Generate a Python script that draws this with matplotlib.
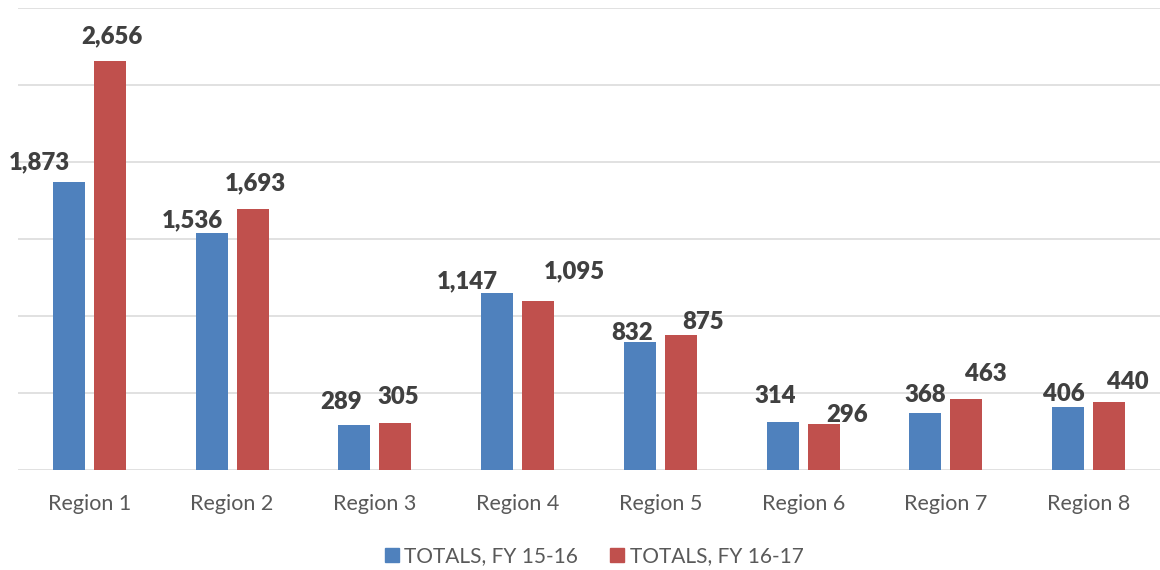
import matplotlib
matplotlib.use("Agg")
import matplotlib.pyplot as plt
from matplotlib.lines import Line2D
import numpy as np

categories = ["Region 1", "Region 2", "Region 3", "Region 4",
              "Region 5", "Region 6", "Region 7", "Region 8"]
fy1516 = [1873, 1536, 289, 1147, 832, 314, 368, 406]
fy1617 = [2656, 1693, 305, 1095, 875, 296, 463, 440]
series_names = ["TOTALS, FY 15-16", "TOTALS, FY 16-17"]

# label offsets (pixels) as in the reference
blue_dx = [-30, -19, -13, -30, -8, -7, 0, -4]
blue_gap = [12, 6, 16, 5, 2, 19, 11, 6]
red_dx = [2, 3, 3, 36, 22, 23, 19, 19]
red_gap = [18, 19, 19, 23, 6, 2, 18, 13]

BLUE = "#4F81BD"
RED = "#C0504D"
TXT = "#404040"
CAT = "#595959"

W, H = 1160, 570
fig = plt.figure(figsize=(W / 100, H / 100), dpi=100)
ax = fig.add_axes([18 / W, (H - 470) / H, (W - 18) / W, (470 - 8) / H])

x = np.arange(len(categories))
bw = 0.224
off = 0.1435
ax.bar(x - off, fy1516, width=bw, color=BLUE, zorder=3)
ax.bar(x + off, fy1617, width=bw, color=RED, zorder=3)

for i in range(len(categories)):
    ax.annotate(f"{fy1516[i]:,}", xy=(x[i] - off, fy1516[i]),
                xytext=(blue_dx[i], blue_gap[i]), textcoords="offset pixels",
                ha="center", va="baseline", fontsize=17.2, fontweight="heavy",
                color=TXT, family="Lato", zorder=4)
    ax.annotate(f"{fy1617[i]:,}", xy=(x[i] + off, fy1617[i]),
                xytext=(red_dx[i], red_gap[i]), textcoords="offset pixels",
                ha="center", va="baseline", fontsize=17.2, fontweight="heavy",
                color=TXT, family="Lato", zorder=4)

ax.set_xlim(-0.5, len(categories) - 0.5)
ax.set_ylim(0, 3000)
ax.set_yticks(np.arange(0, 3001, 500))
ax.yaxis.grid(True, color="#D9D9D9", linewidth=1.1, zorder=0)
ax.set_axisbelow(True)
ax.tick_params(axis="y", left=False, labelleft=False)
ax.tick_params(axis="x", bottom=False, pad=14)
ax.set_xticks(x)
ax.set_xticklabels(categories, fontsize=15.5, color=CAT, family="Lato")
for s in ax.spines.values():
    s.set_visible(False)

handles = [Line2D([], [], marker="s", ls="", markersize=9.5, color=BLUE),
           Line2D([], [], marker="s", ls="", markersize=9.5, color=RED)]
leg = fig.legend(handles, series_names, loc="center",
                 bbox_to_anchor=(593.5 / W, (H - 556) / H), ncol=2,
                 frameon=False, handletextpad=0.2, columnspacing=1.5,
                 handlelength=0.8, prop={"family": "Lato", "size": 15})
for t in leg.get_texts():
    t.set_color(CAT)

fig.savefig("out.png", dpi=100)
